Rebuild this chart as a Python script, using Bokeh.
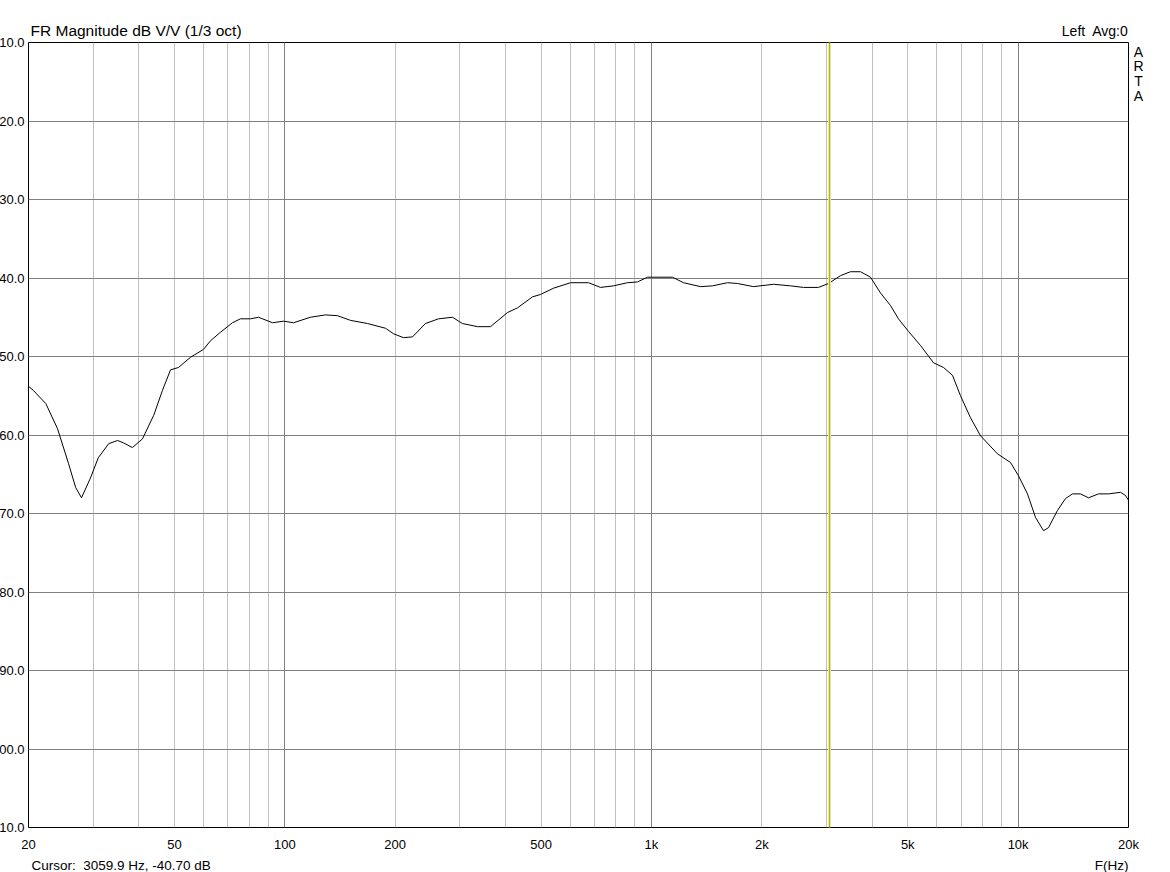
from bokeh.plotting import figure
from bokeh.models import FixedTicker, Grid, Span, ColumnDataSource
from bokeh.core.properties import value
from bokeh.embed import file_html
from bokeh.resources import INLINE

# ---- data ----
freq_hz = [20, 20.6, 22.3, 24.0, 25.7, 26.9, 27.9, 29.5, 31.0, 33.1,
           35.0, 36.3, 38.4, 40.9, 43.9, 46.4, 48.8, 51.3, 55.3, 60.0,
           62.7, 66.8, 72.0, 75.7, 80.6, 84.8, 92.6, 99.2, 105.6, 117.5,
           129.1, 139.2, 151.1, 168.1, 188.2, 197.9, 210.7, 223.0, 241.9, 262.6,
           286.7, 305.2, 335.4, 363.9, 405.0, 431.3, 473.8, 498.2, 540.6, 601.7,
           673.7, 726.2, 787.9, 860.2, 916.0, 975.5, 1141, 1223, 1361, 1468,
           1612, 1717, 1898, 2152, 2395, 2598, 2854, 3040, 3278, 3489,
           3716, 3957, 4213, 4486, 4717, 5024, 5417, 5878, 6260, 6623,
           6964, 7415, 7897, 8785, 9534, 10024, 10606, 11154, 11729, 12102,
           12807, 13465, 14071, 14795, 15557, 16569, 17645, 19022, 19625, 20000]
mag_db = [-53.8, -54.3, -56.0, -59.2, -63.6, -66.7, -68.0, -65.5, -62.9, -61.1,
          -60.7, -61.0, -61.6, -60.5, -57.5, -54.3, -51.7, -51.4, -50.1, -49.1,
          -48.0, -46.9, -45.7, -45.2, -45.2, -45.0, -45.7, -45.5, -45.7, -45.0,
          -44.7, -44.8, -45.4, -45.8, -46.4, -47.1, -47.6, -47.5, -45.8, -45.2,
          -45.0, -45.8, -46.2, -46.2, -44.4, -43.8, -42.4, -42.1, -41.3, -40.6,
          -40.6, -41.2, -41.0, -40.6, -40.5, -39.9, -39.9, -40.6, -41.1, -41.0,
          -40.6, -40.7, -41.1, -40.8, -41.0, -41.2, -41.2, -40.7, -39.7, -39.2,
          -39.2, -39.9, -41.9, -43.5, -45.2, -46.8, -48.6, -50.8, -51.4, -52.4,
          -55.0, -57.8, -60.1, -62.4, -63.5, -65.2, -67.5, -70.5, -72.2, -71.8,
          -69.6, -68.1, -67.5, -67.5, -68.0, -67.5, -67.5, -67.3, -67.7, -68.3]

x_tick_values = [20, 50, 100, 200, 500, 1000, 2000, 5000, 10000, 20000]
x_tick_labels = ["20", "50", "100", "200", "500", "1k", "2k", "5k", "10k", "20k"]
x_minor_grid = [30, 40, 50, 60, 70, 80, 90,
                200, 300, 400, 500, 600, 700, 800, 900,
                2000, 3000, 4000, 5000, 6000, 7000, 8000, 9000]
x_major_grid = [100, 1000, 10000]
y_tick_values = [-10, -20, -30, -40, -50, -60, -70, -80, -90, -100, -110]
y_tick_labels = ["-10.0", "-20.0", "-30.0", "-40.0", "-50.0", "-60.0",
                 "-70.0", "-80.0", "-90.0", "-100.0", "-110.0"]
title_text = "FR Magnitude dB V/V (1/3 oct)"
channel_text = "Left\u00a0 Avg:0"
brand_letters = ["A", "R", "T", "A"]
x_axis_title = "F(Hz)"
cursor_freq = 3059.9
cursor_db = -40.70

FONT = "Liberation Sans"
F_MIN, F_MAX = 20, 20000
DB_MIN, DB_MAX = -110, -10

p = figure(width=1160, height=872, frame_width=1100, frame_height=785,
           x_axis_type="log", x_range=(F_MIN, F_MAX), y_range=(DB_MIN, DB_MAX),
           y_axis_location=None, output_backend="svg", toolbar_location=None,
           min_border_left=28, min_border_right=32, min_border_top=42,
           min_border_bottom=45)
p.background_fill_color = "white"
p.border_fill_color = "white"
p.outline_line_color = "black"
p.outline_line_width = 1

# x axis
xa = p.xaxis[0]
xa.ticker = FixedTicker(ticks=x_tick_values)
xa.major_label_overrides = {v: t for v, t in zip(x_tick_values, x_tick_labels)}
xa.axis_line_color = None
xa.major_tick_line_color = None
xa.minor_tick_line_color = None
xa.major_tick_out = 0
xa.major_tick_in = 0
xa.major_label_standoff = 9
xa.major_label_text_font = FONT
xa.major_label_text_font_size = "13px"
xa.major_label_text_color = "black"

# grids
p.xgrid.ticker = FixedTicker(ticks=x_minor_grid)
p.xgrid.grid_line_color = "#c0c0c0"
p.xgrid.grid_line_width = 1
p.add_layout(Grid(dimension=0, ticker=FixedTicker(ticks=x_major_grid),
                  grid_line_color="#808080", grid_line_width=1))
p.ygrid.ticker = FixedTicker(ticks=y_tick_values[1:-1])
p.ygrid.grid_line_color = "#808080"
p.ygrid.grid_line_width = 1

# cursor
p.add_layout(Span(location=cursor_freq, dimension="height",
                  line_color="#ecec9c", line_width=3))
p.add_layout(Span(location=cursor_freq, dimension="height",
                  line_color="#b0b000", line_width=1))

# curve
p.line(freq_hz, mag_db, line_color="black", line_width=1)

common = dict(text_font=value(FONT), text_color="black", level="overlay")

# y tick labels (outside the frame, left; clipped by the window as in the original)
p.text(x=[F_MIN] * len(y_tick_values), y=y_tick_values, text=y_tick_labels,
       x_offset=-4, text_align="right", text_baseline="middle",
       text_font_size="13px", **common)

# title (top-left) and channel info (top-right)
p.text(x=[F_MIN], y=[DB_MAX], text=[title_text], x_offset=2, y_offset=-12,
       text_align="left", text_baseline="middle",
       text_font_size="15.5px", **common)
p.text(x=[F_MAX], y=[DB_MAX], text=[channel_text], x_offset=0, y_offset=-12,
       text_align="right", text_baseline="middle",
       text_font_size="14px", **common)

# ARTA vertical letters on the right
brand_src = ColumnDataSource(dict(
    x=[F_MAX] * len(brand_letters), y=[DB_MAX] * len(brand_letters),
    t=brand_letters, dy=[9 + 14.7 * i for i in range(len(brand_letters))]))
p.text(x="x", y="y", text="t", y_offset="dy", x_offset=10, source=brand_src,
       text_align="center", text_baseline="middle",
       text_font_size="14px", **common)

# bottom texts
p.text(x=[F_MIN], y=[DB_MIN],
       text=["Cursor:\u00a0 %.1f Hz, %.2f dB" % (cursor_freq, cursor_db)],
       x_offset=3, y_offset=38, text_align="left", text_baseline="middle",
       text_font_size="13.5px", **common)
p.text(x=[F_MAX], y=[DB_MIN], text=[x_axis_title], x_offset=0, y_offset=38,
       text_align="right", text_baseline="middle",
       text_font_size="13.5px", **common)

open("out.html", "w").write(file_html(p, INLINE))
